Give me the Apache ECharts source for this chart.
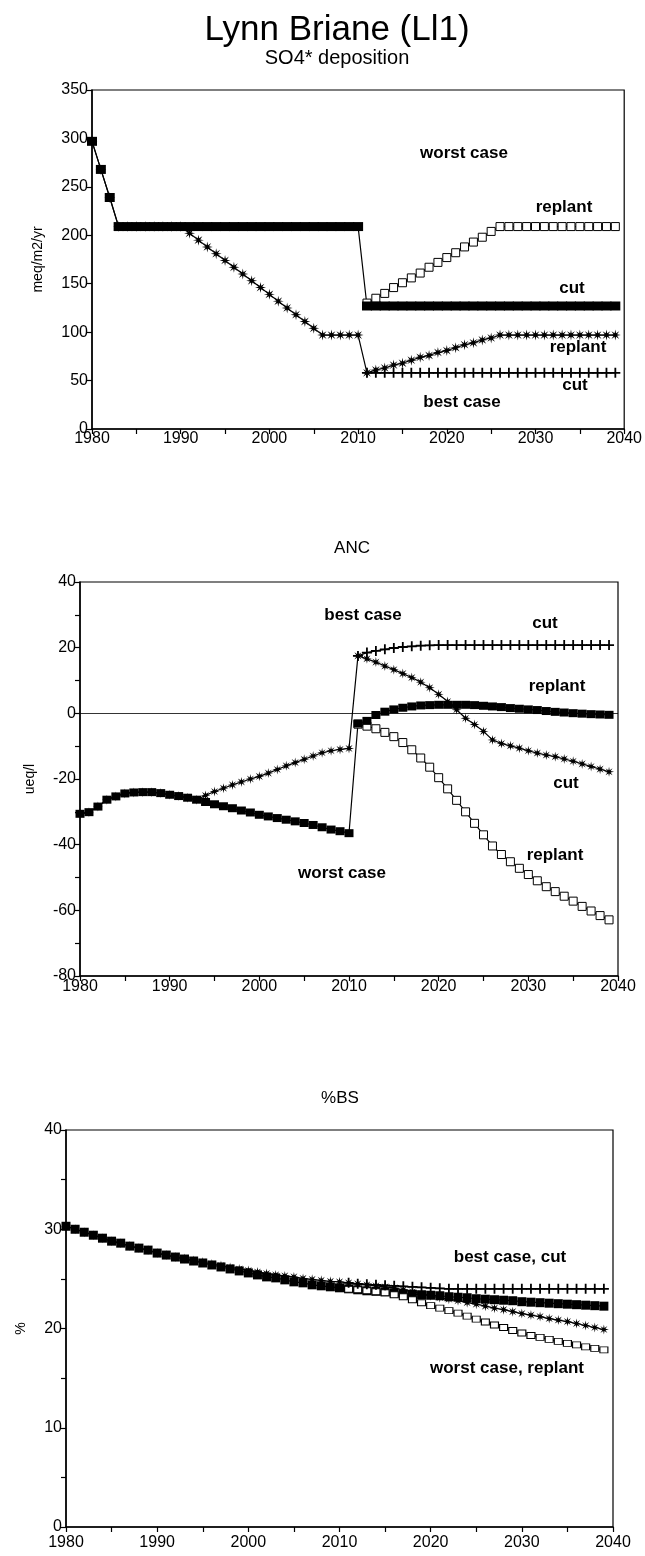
<!DOCTYPE html>
<html>
<head>
<meta charset="utf-8">
<script src="https://cdn.jsdelivr.net/npm/echarts@6/dist/echarts.min.js"></script>
<style>
  html, body { margin: 0; padding: 0; background: #fff; }
  #chart { width: 645px; height: 1556px; }
</style>
</head>
<body>
<div id="chart"></div>
<script>
// Simulation years (annual steps)
const YEARS = [
  1980, 1981, 1982, 1983, 1984, 1985, 1986, 1987, 1988, 1989,
  1990, 1991, 1992, 1993, 1994, 1995, 1996, 1997, 1998, 1999,
  2000, 2001, 2002, 2003, 2004, 2005, 2006, 2007, 2008, 2009,
  2010, 2011, 2012, 2013, 2014, 2015, 2016, 2017, 2018, 2019,
  2020, 2021, 2022, 2023, 2024, 2025, 2026, 2027, 2028, 2029,
  2030, 2031, 2032, 2033, 2034, 2035, 2036, 2037, 2038, 2039
];
// Felling scenarios branch off from 2011
const YEARS_AFTER_FELLING = YEARS.slice(31);

// ---- SO4* deposition (meq/m2/yr) ----
const SO4_WORST_CUT = [
  297, 268, 239, 209, 209, 209, 209, 209, 209, 209,
  209, 209, 209, 209, 209, 209, 209, 209, 209, 209,
  209, 209, 209, 209, 209, 209, 209, 209, 209, 209,
  209, 127, 127, 127, 127, 127, 127, 127, 127, 127,
  127, 127, 127, 127, 127, 127, 127, 127, 127, 127,
  127, 127, 127, 127, 127, 127, 127, 127, 127, 127
];
const SO4_WORST_REPLANT = [
  130, 135, 140, 146, 151, 156, 161, 167, 172, 177,
  182, 188, 193, 198, 204, 209, 209, 209, 209, 209,
  209, 209, 209, 209, 209, 209, 209, 209, 209
];
const SO4_BEST_REPLANT = [
  297, 268, 239, 209, 209, 209, 209, 209, 209, 209,
  209, 202, 195, 188, 181, 174, 167, 160, 153, 146,
  139, 132, 125, 118, 111, 104, 97, 97, 97, 97,
  97, 58, 61, 63, 66, 68, 71, 74, 76, 79,
  81, 84, 87, 89, 92, 94, 97, 97, 97, 97,
  97, 97, 97, 97, 97, 97, 97, 97, 97, 97
];
const SO4_BEST_CUT = [
  58, 58, 58, 58, 58, 58, 58, 58, 58, 58,
  58, 58, 58, 58, 58, 58, 58, 58, 58, 58,
  58, 58, 58, 58, 58, 58, 58, 58, 58
];

// ---- ANC (ueq/l) ----
const ANC_WORST_CUT = [
  -30.6, -30.1, -28.4, -26.3, -25.3, -24.4, -24.1, -24.0, -24.0, -24.3,
  -24.8, -25.2, -25.7, -26.3, -27.0, -27.7, -28.3, -28.9, -29.6, -30.2,
  -30.9, -31.4, -31.9, -32.4, -32.9, -33.4, -34.0, -34.7, -35.4, -35.9,
  -36.5, -3.1, -2.3, -0.5, 0.5, 1.2, 1.7, 2.1, 2.4, 2.5,
  2.6, 2.6, 2.6, 2.6, 2.5, 2.3, 2.1, 1.9, 1.6, 1.4,
  1.2, 1.0, 0.7, 0.45, 0.25, 0.05, -0.1, -0.25, -0.35, -0.45
];
const ANC_WORST_REPLANT = [
  -3.3, -3.9, -4.7, -5.8, -7.1, -8.9, -11.1, -13.6, -16.4, -19.6,
  -23.0, -26.5, -30.0, -33.5, -37.0, -40.4, -43.0, -45.2, -47.2, -49.1,
  -51.0, -52.8, -54.3, -55.7, -57.2, -58.8, -60.2, -61.6, -62.9
];
const ANC_BEST_REPLANT = [
  -30.6, -30.1, -28.4, -26.3, -25.3, -24.4, -24.1, -24.0, -24.0, -24.3,
  -24.8, -25.2, -25.7, -26.3, -25.0, -23.8, -22.8, -21.8, -20.9, -20.0,
  -19.2, -18.2, -17.1, -16.0, -15.0, -14.0, -13.0, -12.0, -11.4, -11.0,
  -10.7, 17.5, 16.6, 15.6, 14.4, 13.3, 12.1, 10.9, 9.5, 7.8,
  5.8, 3.6, 1.1, -1.5, -3.4, -5.5, -8.1, -9.2, -9.9, -10.6,
  -11.4, -12.1, -12.7, -13.2, -13.9, -14.6, -15.4, -16.2, -17.0, -17.8
];
const ANC_BEST_CUT = [
  17.5, 18.5, 19.0, 19.5, 19.9, 20.2, 20.4, 20.6, 20.7, 20.8,
  20.8, 20.8, 20.8, 20.8, 20.8, 20.8, 20.8, 20.8, 20.8, 20.8,
  20.8, 20.8, 20.8, 20.8, 20.8, 20.8, 20.8, 20.8, 20.8
];

// ---- Base saturation (%) ----
const BS_WORST_CUT = [
  30.3, 30.0, 29.7, 29.4, 29.1, 28.8, 28.6, 28.3, 28.1, 27.9,
  27.6, 27.4, 27.2, 27.0, 26.8, 26.6, 26.4, 26.2, 26.0, 25.8,
  25.6, 25.4, 25.2, 25.1, 24.9, 24.7, 24.6, 24.4, 24.3, 24.2,
  24.1, 24.0, 23.9, 23.8, 23.75, 23.7, 23.6, 23.5, 23.45, 23.4,
  23.35, 23.3, 23.2, 23.15, 23.1, 23.0, 22.95, 22.9, 22.85, 22.8,
  22.7, 22.65, 22.6, 22.55, 22.5, 22.45, 22.4, 22.35, 22.3, 22.25
];
const BS_WORST_REPLANT = [
  23.95, 23.9, 23.8, 23.7, 23.6, 23.4, 23.2, 22.9, 22.6, 22.3,
  22.05, 21.8, 21.55, 21.25, 20.95, 20.65, 20.35, 20.1, 19.8, 19.55,
  19.3, 19.1, 18.9, 18.7, 18.5, 18.35, 18.15, 18.0, 17.85
];
const BS_BEST_REPLANT = [
  30.3, 30.0, 29.7, 29.4, 29.1, 28.8, 28.6, 28.3, 28.1, 27.9,
  27.6, 27.4, 27.2, 27.05, 26.85, 26.7, 26.5, 26.35, 26.15, 26.0,
  25.85, 25.7, 25.55, 25.4, 25.3, 25.2, 25.05, 24.95, 24.85, 24.75,
  24.7, 24.6, 24.5, 24.4, 24.3, 24.2, 24.1, 23.9, 23.7, 23.5,
  23.3, 23.1, 22.95, 22.8, 22.6, 22.45, 22.25, 22.05, 21.9, 21.7,
  21.5, 21.35, 21.2, 21.0, 20.85, 20.7, 20.5, 20.3, 20.1, 19.9
];
const BS_BEST_CUT = [
  24.6, 24.5, 24.45, 24.4, 24.35, 24.3, 24.25, 24.2, 24.15, 24.1,
  24.05, 24.0, 24.0, 24.0, 24.0, 24.0, 24.0, 24.0, 24.0, 24.0,
  24.0, 24.0, 24.0, 24.0, 24.0, 24.0, 24.0, 24.0, 24.0
];

// ---- Text ----
const MAIN_TITLE = 'Lynn Briane (Ll1)';
const PANEL_TITLES = ['SO4* deposition', 'ANC', '%BS'];
const UNITS = ['meq/m2/yr', 'ueq/l', '%'];

// ---- Marker shapes ----
const STAR = 'path://M5,0 L1.6,0.66 L3.536,3.536 L0.66,1.6 L0,5 L-0.66,1.6 L-3.536,3.536 L-1.6,0.66 L-5,0 L-1.6,-0.66 L-3.536,-3.536 L-0.66,-1.6 L0,-5 L0.66,-1.6 L3.536,-3.536 L1.6,-0.66 Z';
const PLUS = 'path://M-0.9,-5 L0.9,-5 L0.9,-0.9 L5,-0.9 L5,0.9 L0.9,0.9 L0.9,5 L-0.9,5 L-0.9,0.9 L-5,0.9 L-5,-0.9 L-0.9,-0.9 Z';

const FONT = '"Liberation Sans", Arial, Helvetica, sans-serif';
const INK = '#000';

function pairs(years, values) {
  return values.map((v, i) => [years[i], v]);
}

const MARKERS = {
  filled: { symbol: 'rect', itemStyle: { color: INK } },
  open: { symbol: 'rect', itemStyle: { color: '#fff', borderColor: INK, borderWidth: 1 } },
  star: { symbol: STAR, itemStyle: { color: INK } },
  plus: { symbol: PLUS, itemStyle: { color: INK } }
};

function lineSeries(gridIndex, years, values, kind, size, extra) {
  return Object.assign({
    type: 'line',
    xAxisIndex: gridIndex,
    yAxisIndex: gridIndex,
    data: pairs(years, values),
    symbol: MARKERS[kind].symbol,
    symbolSize: size,
    showSymbol: true,
    itemStyle: MARKERS[kind].itemStyle,
    lineStyle: { color: INK, width: 1.2 },
    emphasis: { disabled: true },
    silent: true,
    animation: false,
    clip: false
  }, extra || {});
}

const GRIDS = [
  { left: 92, right: 18, top: 90, height: 339 },
  { left: 80, right: 27, top: 582, height: 394 },
  { left: 66, right: 32, top: 1130, height: 397 }
];

function xAxisFor(i, margin) {
  return {
    type: 'value', gridIndex: i, min: 1980, max: 2040, interval: 5,
    axisLine: { show: true, onZero: false, lineStyle: { color: INK, width: 1.5 } },
    axisTick: { show: true, inside: false, length: 5, lineStyle: { color: INK, width: 1.2 } },
    axisLabel: {
      margin: margin, color: INK, fontFamily: FONT, fontSize: 16,
      formatter: v => (v % 10 === 0 ? String(v) : '')
    },
    splitLine: { show: false }
  };
}

function yAxisFor(i, min, max, interval, labelEvery, nameGap) {
  return {
    type: 'value', gridIndex: i, min: min, max: max, interval: interval,
    name: UNITS[i], nameLocation: 'middle', nameRotate: 90, nameGap: nameGap,
    nameTextStyle: { color: INK, fontFamily: FONT, fontSize: 14 },
    axisLine: { show: true, onZero: false, lineStyle: { color: INK, width: 1.5 } },
    axisTick: { show: true, inside: false, length: 5, lineStyle: { color: INK, width: 1.2 } },
    axisLabel: {
      margin: 4, color: INK, fontFamily: FONT, fontSize: 16,
      formatter: v => (Math.round(v) % labelEvery === 0 ? String(v) : '')
    },
    splitLine: { show: false }
  };
}

function label(text, x, y, size, weight) {
  return {
    type: 'text', x: x, y: y, silent: true,
    style: {
      text: text, fill: INK, font: (weight || 'bold') + ' ' + size + 'px ' + FONT,
      textAlign: 'center', textVerticalAlign: 'middle'
    }
  };
}

const option = {
  backgroundColor: '#fff',
  animation: false,
  grid: GRIDS.map(g => Object.assign({
    show: true, borderColor: INK, borderWidth: 1.2, backgroundColor: 'transparent'
  }, g)),
  xAxis: [xAxisFor(0, 2), xAxisFor(1, 3), xAxisFor(2, 8)],
  yAxis: [
    yAxisFor(0, 0, 350, 50, 50, 47),
    yAxisFor(1, -80, 40, 10, 20, 43),
    yAxisFor(2, 0, 40, 5, 10, 38)
  ],
  series: [
    // SO4* deposition
    lineSeries(0, YEARS, SO4_BEST_REPLANT, 'star', 11),
    lineSeries(0, YEARS_AFTER_FELLING, SO4_BEST_CUT, 'plus', 10),
    lineSeries(0, YEARS_AFTER_FELLING, SO4_WORST_REPLANT, 'open', 8),
    lineSeries(0, YEARS, SO4_WORST_CUT, 'filled', [10, 9]),

    // ANC
    lineSeries(1, YEARS_AFTER_FELLING, ANC_WORST_REPLANT, 'open', 8, {
      markLine: {
        silent: true, symbol: 'none', animation: false,
        label: { show: false },
        lineStyle: { color: INK, width: 0.8, type: 'solid' },
        data: [{ yAxis: 0 }]
      }
    }),
    lineSeries(1, YEARS, ANC_WORST_CUT, 'filled', [9, 8]),
    lineSeries(1, YEARS_AFTER_FELLING, ANC_BEST_CUT, 'plus', 10),
    lineSeries(1, YEARS, ANC_BEST_REPLANT, 'star', 10),

    // Base saturation
    lineSeries(2, YEARS, BS_WORST_CUT, 'filled', [9, 9]),
    lineSeries(2, YEARS, BS_BEST_REPLANT, 'star', 10),
    lineSeries(2, YEARS_AFTER_FELLING, BS_WORST_REPLANT, 'open', [8, 6]),
    lineSeries(2, YEARS_AFTER_FELLING, BS_BEST_CUT, 'plus', 10)
  ],
  graphic: [
    label(MAIN_TITLE, 337, 30, 35, 'normal'),
    label(PANEL_TITLES[0], 337, 58, 20, 'normal'),
    label(PANEL_TITLES[1], 352, 548, 17, 'normal'),
    label(PANEL_TITLES[2], 340, 1098, 17, 'normal'),

    label('worst case', 464, 153, 17),
    label('replant', 564, 207, 17),
    label('cut', 572, 288, 17),
    label('replant', 578, 347, 17),
    label('cut', 575, 385, 17),
    label('best case', 462, 402, 17),

    label('best case', 363, 615, 17),
    label('cut', 545, 623, 17),
    label('replant', 557, 686, 17),
    label('cut', 566, 783, 17),
    label('replant', 555, 855, 17),
    label('worst case', 342, 873, 17),

    label('best case, cut', 510, 1257, 17),
    label('worst case, replant', 507, 1368, 17)
  ]
};

const chart = echarts.init(document.getElementById('chart'), null, { renderer: 'canvas' });
chart.setOption(option);
</script>
</body>
</html>
